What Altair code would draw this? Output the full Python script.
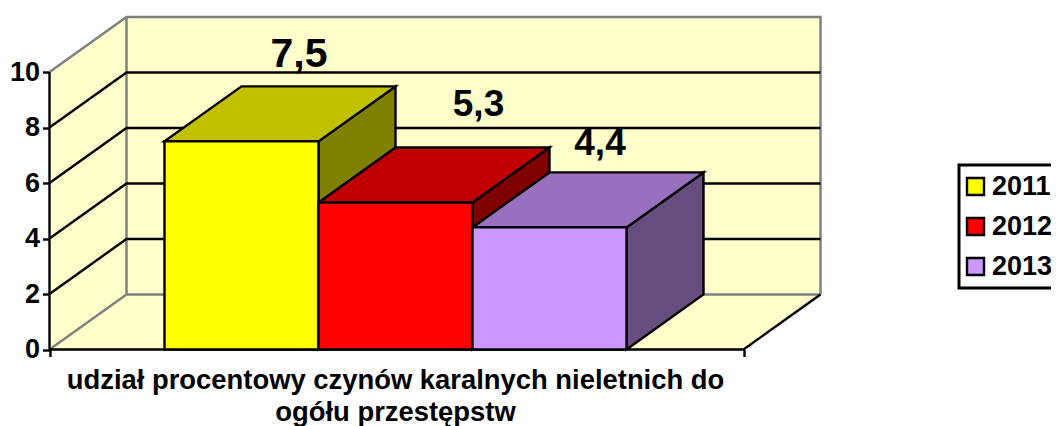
import altair as alt
import pandas as pd

years = ["2011", "2012", "2013"]
values = [7.5, 5.3, 4.4]
value_labels = ["7,5", "5,3", "4,4"]
axis_ticks = [0, 2, 4, 6, 8, 10]
category_lines = ["udział procentowy czynów karalnych nieletnich do", "ogółu przestępstw"]
front_colors = ["#FFFF00", "#FF0000", "#CC99FF"]
top_colors = ["#C0C000", "#C00000", "#9970BF"]
side_colors = ["#808000", "#800000", "#664D80"]

# layout of the pseudo-3D box, in scale units
WALL = "#FFFFCC"
FONT = "Liberation Sans"
PX_PER_UNIT = 27.75
DX = 77
DV = 55 / PX_PER_UNIT
FLOOR_W = 694
BAR_LEFT = 115
BAR_W = 154
LW = 2.4
WIDTH, HEIGHT = 1043, 418
ORIGIN_X, ORIGIN_Y = 41.5, 341.5  # position of the front zero corner inside the plot
x_scale = alt.Scale(domain=[-ORIGIN_X, WIDTH - ORIGIN_X], range=[0, WIDTH], nice=False, zero=False)
y_scale = alt.Scale(domain=[(ORIGIN_Y - HEIGHT) / PX_PER_UNIT, ORIGIN_Y / PX_PER_UNIT],
                    range=[HEIGHT, 0], nice=False, zero=False)
x_axis = alt.Axis(values=[0, FLOOR_W], labels=False, title=None, domain=False, grid=False,
                  ticks=True, tickSize=7, tickWidth=LW, tickColor="black", offset=ORIGIN_Y - HEIGHT)
y_axis = alt.Axis(values=axis_ticks, title=None, domain=False, grid=False, ticks=True, tickSize=7,
                  tickWidth=LW, tickColor="black", labelFont=FONT, labelFontWeight="bold",
                  labelFontSize=27, labelColor="black", labelPadding=3, offset=-ORIGIN_X, format="d")
X = alt.X("x:Q", scale=x_scale, axis=x_axis)


def Y(field):
    return alt.Y(field, scale=y_scale, axis=y_axis)


def flat(u, v, w):
    """Horizontal parallelogram at height v, running back in depth."""
    return pd.DataFrame({
        "x": [u, u + DX, u + w, u + w + DX],
        "lo": [v, v, v, v + DV],
        "hi": [v, v + DV, v + DV, v + DV],
    })


def side(u, v0, v1):
    """Vertical parallelogram running back in depth."""
    return pd.DataFrame({"x": [u, u + DX], "lo": [v0, v0 + DV], "hi": [v1, v1 + DV]})


def face(df, fill, stroke=None, sw=LW):
    props = {"fill": fill, "opacity": 1}
    if stroke:
        props.update(stroke=stroke, strokeWidth=sw)
    else:
        props.update(strokeWidth=0)
    return alt.Chart(df).mark_area(**props).encode(x=X, y=Y("lo:Q"), y2="hi:Q")


def lines(rows, color, sw):
    df = pd.DataFrame(rows, columns=["id", "x", "v"])
    return alt.Chart(df).mark_line(color=color, strokeWidth=sw, clip=False).encode(
        x=X, y=Y("v:Q"), detail="id:N")


layers = []
layers.append(face(pd.DataFrame({"x": [DX, DX + FLOOR_W], "lo": [DV, DV], "hi": [10 + DV, 10 + DV]}), WALL))
layers.append(face(side(0, 0, 10), WALL))
layers.append(face(flat(0, 0, FLOOR_W), WALL))

black_rows, gray_rows = [], []
for t in axis_ticks[1:-1]:
    black_rows += [(f"s{t}", 0, t), (f"s{t}", DX, t + DV), (f"s{t}", DX + FLOOR_W, t + DV)]
black_rows += [("axis", 0, 0), ("axis", 0, 10)]
black_rows += [("front", 0, 0), ("front", FLOOR_W, 0), ("front", FLOOR_W + DX, DV)]
gray_rows += [("top", 0, 10), ("top", DX, 10 + DV), ("top", DX + FLOOR_W, 10 + DV), ("top", DX + FLOOR_W, DV)]
gray_rows += [("back", DX, 10 + DV), ("back", DX, DV)]
gray_rows += [("floor", 0, 0), ("floor", DX, DV), ("floor", DX + FLOOR_W, DV)]
layers.append(lines(gray_rows, "#808080", 2.5))
layers.append(lines(black_rows, "black", LW))

for i, v in enumerate(values):
    u = BAR_LEFT + i * BAR_W
    layers.append(face(side(u + BAR_W, 0, v), side_colors[i], "black"))
    layers.append(face(flat(u, v, BAR_W), top_colors[i], "black"))

bars = pd.DataFrame({
    "year": years,
    "value": values,
    "base": [0] * 3,
    "x": [BAR_LEFT + i * BAR_W for i in range(3)],
    "x1": [BAR_LEFT + (i + 1) * BAR_W for i in range(3)],
})
layers.append(alt.Chart(bars).mark_rect(stroke="black", strokeWidth=LW, opacity=1).encode(
    x=X,
    x2="x1:Q",
    y=Y("value:Q"),
    y2="base:Q",
    color=alt.Color("year:N", scale=alt.Scale(domain=years, range=front_colors), legend=alt.Legend(
        orient="none", legendX=951, legendY=157, title=None, symbolType="square", symbolSize=289,
        symbolStrokeColor="black", symbolStrokeWidth=2.4, symbolOpacity=1, labelFont=FONT, labelFontWeight="bold",
        labelFontSize=27, labelColor="black", labelOffset=3, rowPadding=12, padding=8, symbolOffset=-5,
        strokeColor="black", labelLimit=200)),
))

labels = pd.DataFrame({
    "text": value_labels,
    "x": [249.5, 429, 550.5],
    "v": [(349 - 66) / PX_PER_UNIT, (349 - 115) / PX_PER_UNIT, (349 - 154) / PX_PER_UNIT],
    "size": [41, 37, 37],
})
layers.append(alt.Chart(labels).mark_text(font=FONT, fontWeight="bold", color="black", baseline="alphabetic").encode(
    x=X,
    y=Y("v:Q"),
    text="text:N",
    size=alt.Size("size:Q", scale=None, legend=None),
))

cat = pd.DataFrame({"text": category_lines, "x": [FLOOR_W / 2 - 1] * 2,
                    "v": [(349 - 388) / PX_PER_UNIT, (349 - 420) / PX_PER_UNIT]})
layers.append(alt.Chart(cat).mark_text(font=FONT, fontWeight="bold", fontSize=27.4, color="black", baseline="alphabetic").encode(
    x=X,
    y=Y("v:Q"),
    text="text:N",
))

chart = alt.layer(*layers).properties(
    width=WIDTH, height=HEIGHT, padding=0,
    autosize=alt.AutoSizeParams(type="none"),
).configure_view(stroke=None).configure_legend(strokeWidth=3)

chart.save("out.html", embed_options={"renderer": "svg", "actions": False})
